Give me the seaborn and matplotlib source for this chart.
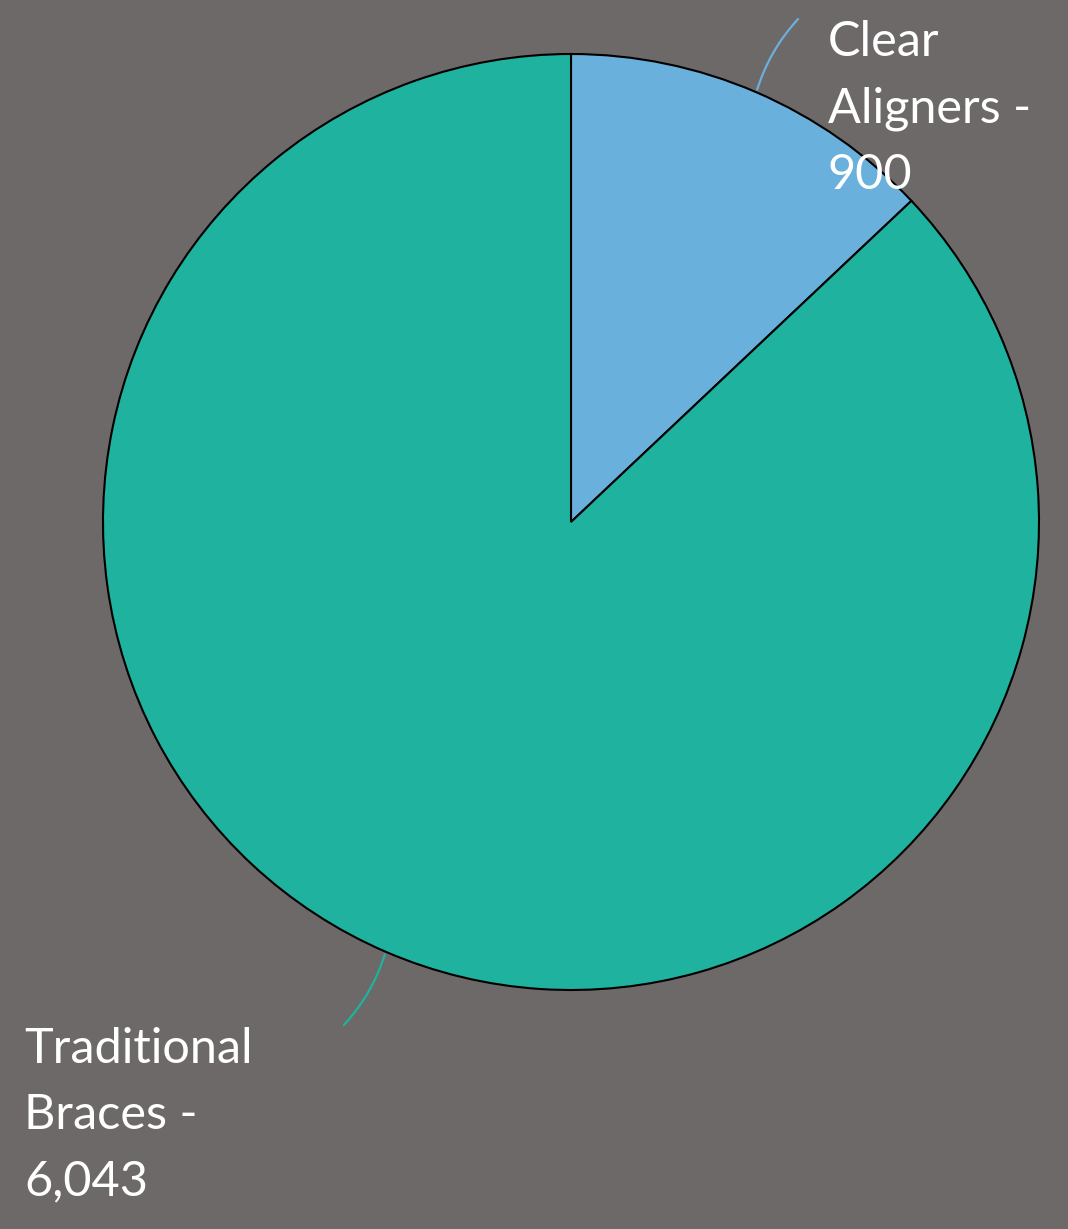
import matplotlib
matplotlib.use("Agg")
import matplotlib.pyplot as plt
import seaborn as sns
import numpy as np

categories = ["Clear Aligners", "Traditional Braces"]
values = [900, 6043]
value_labels = ["900", "6,043"]
label_texts = ["Clear\nAligners -\n900", "Traditional\nBraces -\n6,043"]

sns.set_theme(style="white")
plt.rcParams['font.family'] = ['Lato', 'DejaVu Sans']

BG = "#6d6968"
colors = ["#6ab0dc", "#1fb29e"]

W, H = 1068, 1229
fig = plt.figure(figsize=(W / 100, H / 100), dpi=100, facecolor=BG)
ax = fig.add_axes([0, 0, 1, 1])
ax.set_facecolor(BG)
ax.axis("off")

cx, cy, R = 571, H - 522, 468
wedges, _ = ax.pie(values, colors=colors, startangle=90, counterclock=False,
                   center=(cx, cy), radius=R,
                   wedgeprops=dict(edgecolor="black", linewidth=1.5))
ax.set_xlim(0, W)
ax.set_ylim(0, H)
ax.set_aspect("equal")

# leader lines from the mid-angle of each wedge
ends = [(800, H - 17), (342, H - 1027)]
rads = [-0.12, -0.12]
for w, end, col, rad in zip(wedges, ends, colors, rads):
    ang = np.deg2rad((w.theta1 + w.theta2) / 2)
    start = (cx + R * np.cos(ang), cy + R * np.sin(ang))
    ax.annotate("", xy=end, xytext=start,
                arrowprops=dict(arrowstyle="-", color=col, lw=1.6,
                                connectionstyle=f"arc3,rad={rad}"))

text_pos = [(828, H - 20), (24, H - 1027)]
for txt, (tx, ty) in zip(label_texts, text_pos):
    ax.text(tx, ty, txt, color="white", fontsize=35, fontweight="normal",
            ha="left", va="top", linespacing=1.62)

fig.savefig("out.png", dpi=100, facecolor=BG)
